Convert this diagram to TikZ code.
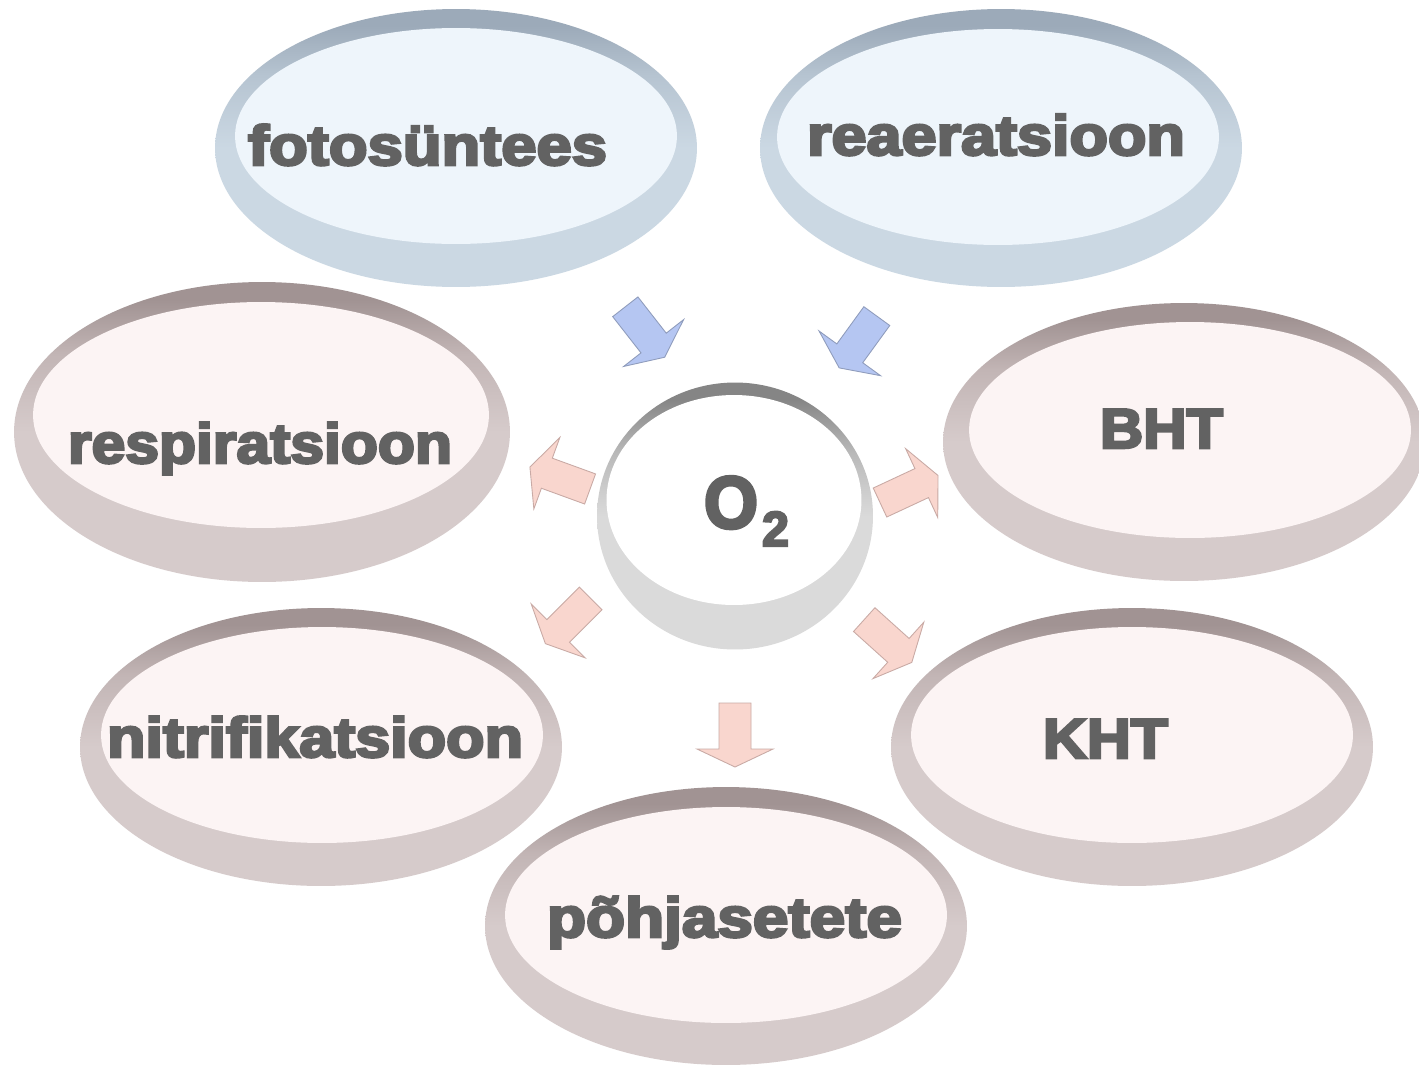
\documentclass[tikz,border=0pt]{standalone}
\usepackage{fontspec}
\usepackage{graphicx}
\usetikzlibrary{shapes.geometric}
\newfontfamily\labfont{Liberation Sans}[BoldFeatures={FakeBold=4.5}]
\definecolor{pinktop}{HTML}{A19393}
\definecolor{pinkmid}{HTML}{C2B5B5}
\definecolor{pinkbot}{HTML}{D6CBCB}
\definecolor{pinkin}{HTML}{FCF4F4}
\definecolor{bluetop}{HTML}{9CAAB9}
\definecolor{bluemid}{HTML}{B6C4D1}
\definecolor{bluebot}{HTML}{CBD8E3}
\definecolor{bluein}{HTML}{EEF5FB}
\definecolor{graytop}{HTML}{858585}
\definecolor{graymid}{HTML}{B8B8B8}
\definecolor{graybot}{HTML}{DADADA}
\definecolor{labgray}{HTML}{626262}
\definecolor{arrblue}{HTML}{B5C6F2}
\definecolor{arrblueline}{HTML}{8F9CBC}
\definecolor{arrpink}{HTML}{F9D6CE}
\definecolor{arrpinkline}{HTML}{C9AAA5}
\pgfdeclareverticalshading{pinkrim}{100bp}{color(0bp)=(pinkbot); color(25bp)=(pinkbot); color(50bp)=(pinkbot); color(63bp)=(pinkmid); color(72bp)=(pinktop); color(100bp)=(pinktop)}
\pgfdeclareverticalshading{bluerim}{100bp}{color(0bp)=(bluebot); color(25bp)=(bluebot); color(50bp)=(bluebot); color(63bp)=(bluemid); color(72bp)=(bluetop); color(100bp)=(bluetop)}
\pgfdeclareverticalshading{grayrim}{100bp}{color(0bp)=(graybot); color(25bp)=(graybot); color(50bp)=(graybot); color(62bp)=(graymid); color(72bp)=(graytop); color(100bp)=(graytop)}
\newlength\natw
\newcommand\fitw[2]{\settowidth{\natw}{#2}\pgfmathsetmacro\fitfac{#1*0.569055/\natw}\scalebox{\fitfac}[1]{#2}}
\tikzset{
  ring/.style={ellipse, inner sep=0pt, outer sep=0pt, minimum width=9.64cm, minimum height=5.56cm},
  hole/.style={ellipse, inner sep=0pt, outer sep=0pt, minimum width=8.84cm, minimum height=4.32cm},
  pinkring/.style={ring, shading=pinkrim},
  bluering/.style={ring, shading=bluerim},
  pinkhole/.style={hole, fill=pinkin},
  bluehole/.style={hole, fill=bluein},
  lbl/.style={text=labgray, font=\labfont\bfseries\fontsize{32}{36}\selectfont, inner sep=0pt, anchor=base},
  blockarrow/.pic={\path[pic actions] (-32,-16) -- (14,-16) -- (14,-38) -- (32,0) -- (14,38) -- (14,16) -- (-32,16) -- cycle;},
  bluearr/.style={fill=arrblue, draw=arrblueline, line width=0.5pt},
  pinkarr/.style={fill=arrpink, draw=arrpinkline, line width=0.5pt}
}
\begin{document}
\begin{tikzpicture}[x=0.02cm, y=-0.02cm]
\fill[white] (0,0) rectangle (1419,1065);
\useasboundingbox (0,0) rectangle (1419,1065);
% respiratsioon
\node[pinkring, minimum width=9.92cm, minimum height=6.0cm] (resp-r) at (262,432) {};
\node[pinkhole, minimum width=9.12cm, minimum height=4.52cm] (resp) at (261,415) {};
% fotosuntees
\node[bluering] (foto-r) at (456,148) {};
\node[bluehole] (foto) at (456,136) {};
% reaeratsioon
\node[bluering] (reae-r) at (1001,148) {};
\node[bluehole] (reae) at (998,137) {};
% BHT
\node[pinkring] (bht-r) at (1184,442) {};
\node[pinkhole] (bht) at (1190,430) {};
% nitrifikatsioon
\node[pinkring] (nitr-r) at (321,747) {};
\node[pinkhole] (nitr) at (322,735) {};
% KHT
\node[pinkring] (kht-r) at (1132,747) {};
\node[pinkhole] (kht) at (1132,735) {};
% pohjasetete
\node[pinkring] (pohj-r) at (726,926) {};
\node[pinkhole] (pohj) at (726,915) {};
% O2
\node[ellipse, inner sep=0pt, minimum width=5.52cm, minimum height=5.34cm, shading=grayrim] (o2-r) at (735,516) {};
\node[ellipse, inner sep=0pt, minimum width=5.1cm, minimum height=4.2cm, fill=white] (o2) at (734,500) {};
% arrows
\pic[bluearr, rotate=-52] (a1) at (645,332) {blockarrow};
\pic[bluearr, rotate=-126] (a2) at (858,342) {blockarrow};
\pic[pinkarr, rotate=160] (a3) at (560,478) {blockarrow};
\pic[pinkarr, rotate=25] (a4) at (909,489) {blockarrow};
\pic[pinkarr, rotate=-135] (a5) at (568,621) {blockarrow};
\pic[pinkarr, rotate=-42] (a6) at (888,641) {blockarrow};
\pic[pinkarr, rotate=-90] (a7) at (735,735) {blockarrow};
% labels
\node[lbl] (t-foto) at (427.5,165) {\fitw{359}{fotosüntees}};
\node[lbl] (t-reae) at (996,155) {\fitw{378}{reaeratsioon}};
\node[lbl] (t-resp) at (260,463) {\fitw{384}{respiratsioon}};
\node[lbl] (t-bht) at (1161.5,448) {\fitw{123}{BHT}};
\node[lbl] (t-nitr) at (315,757) {\fitw{416}{nitrifikatsioon}};
\node[lbl] (t-kht) at (1105.5,758) {\fitw{125}{KHT}};
\node[lbl] (t-pohj) at (724.5,937) {\fitw{355}{põhjasetete}};
\node[lbl, font=\labfont\bfseries\fontsize{42}{44}\selectfont] (t-o) at (731,528) {\fitw{54}{O}};
\node[lbl, font=\labfont\bfseries\fontsize{28}{30}\selectfont] (t-2) at (775.5,546) {\fitw{27}{2}};
\end{tikzpicture}
\end{document}
